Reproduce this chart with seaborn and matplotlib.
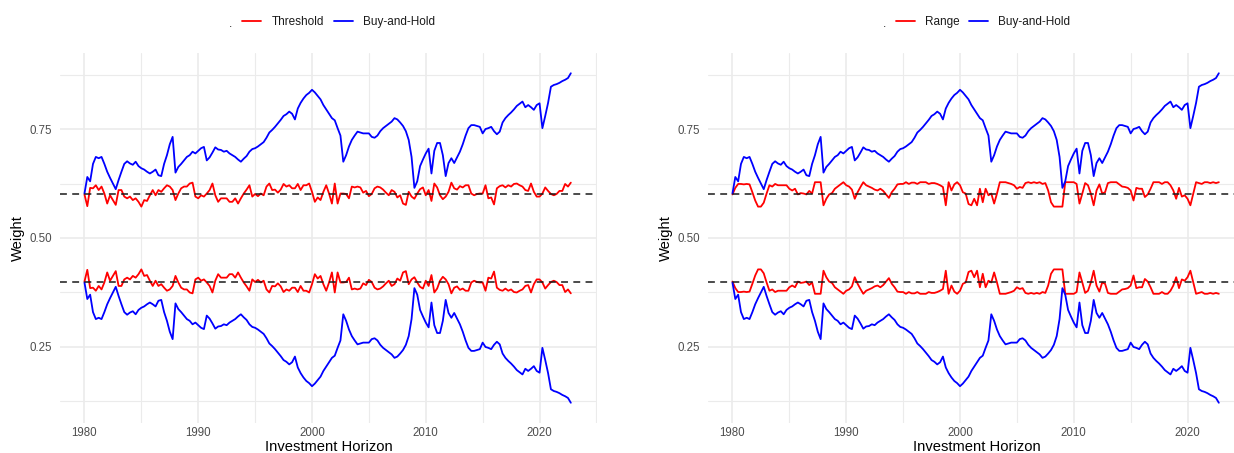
import numpy as np
import pandas as pd
import matplotlib
matplotlib.use("Agg")
import matplotlib.pyplot as plt
from matplotlib.lines import Line2D
import seaborn as sns

# ---------------- data (quarterly 1980.00 .. 2022.75) ----------------
years = 1980 + 0.25 * np.arange(172)

bh_stock = [
    0.602, 0.640, 0.630, 0.670,  0.686, 0.683, 0.686, 0.670,  0.652, 0.638, 0.625, 0.612,
    0.633, 0.652, 0.670, 0.676,  0.671, 0.668, 0.675, 0.665,  0.660, 0.657, 0.652, 0.648,
    0.652, 0.657, 0.644, 0.642,  0.670, 0.690, 0.715, 0.732,  0.650, 0.663, 0.670, 0.678,
    0.686, 0.690, 0.698, 0.694,  0.700, 0.706, 0.709, 0.678,  0.685, 0.696, 0.708, 0.703,
    0.702, 0.698, 0.700, 0.694,  0.690, 0.686, 0.680, 0.675,  0.682, 0.688, 0.698, 0.704,
    0.706, 0.710, 0.715, 0.720,  0.730, 0.742, 0.748, 0.755,  0.763, 0.771, 0.780, 0.784,
    0.790, 0.785, 0.772, 0.797,  0.810, 0.820, 0.828, 0.833,  0.840, 0.834, 0.826, 0.818,
    0.805, 0.795, 0.785, 0.775,  0.770, 0.752, 0.735, 0.675,  0.690, 0.710, 0.725, 0.735,
    0.744, 0.742, 0.740, 0.740,  0.740, 0.732, 0.730, 0.735,  0.745, 0.752, 0.757, 0.762,
    0.767, 0.775, 0.772, 0.765,  0.757, 0.745, 0.725, 0.686,  0.615, 0.630, 0.665, 0.680,
    0.694, 0.705, 0.648, 0.700,  0.718, 0.718, 0.690, 0.642,  0.672, 0.683, 0.672, 0.685,
    0.698, 0.715, 0.735, 0.752,  0.759, 0.759, 0.757, 0.755,  0.740, 0.750, 0.752, 0.755,
    0.745, 0.738, 0.744, 0.765,  0.775, 0.782, 0.788, 0.795,  0.803, 0.808, 0.813, 0.800,
    0.805, 0.800, 0.794, 0.805,  0.809, 0.752, 0.780, 0.810,  0.847, 0.851, 0.853, 0.856,
    0.860, 0.863, 0.867, 0.878,
]
bh_bond = [
    0.398, 0.360, 0.370, 0.330,  0.314, 0.317, 0.314, 0.330,  0.348, 0.362, 0.375, 0.388,
    0.367, 0.348, 0.330, 0.324,  0.329, 0.332, 0.325, 0.335,  0.340, 0.343, 0.348, 0.352,
    0.348, 0.343, 0.356, 0.358,  0.330, 0.310, 0.285, 0.268,  0.350, 0.337, 0.330, 0.322,
    0.314, 0.310, 0.302, 0.306,  0.300, 0.294, 0.291, 0.322,  0.315, 0.304, 0.292, 0.297,
    0.298, 0.302, 0.300, 0.306,  0.310, 0.314, 0.320, 0.325,  0.318, 0.312, 0.302, 0.296,
    0.294, 0.290, 0.285, 0.280,  0.270, 0.258, 0.252, 0.245,  0.237, 0.229, 0.220, 0.216,
    0.210, 0.215, 0.228, 0.203,  0.190, 0.180, 0.172, 0.167,  0.160, 0.166, 0.174, 0.182,
    0.195, 0.205, 0.215, 0.225,  0.230, 0.248, 0.265, 0.325,  0.310, 0.290, 0.275, 0.265,
    0.256, 0.258, 0.260, 0.260,  0.260, 0.268, 0.270, 0.265,  0.255, 0.248, 0.243, 0.238,
    0.233, 0.225, 0.228, 0.235,  0.243, 0.255, 0.275, 0.314,  0.385, 0.370, 0.335, 0.320,
    0.306, 0.295, 0.352, 0.300,  0.282, 0.282, 0.310, 0.358,  0.328, 0.317, 0.328, 0.315,
    0.302, 0.285, 0.265, 0.248,  0.241, 0.241, 0.243, 0.245,  0.260, 0.250, 0.248, 0.245,
    0.255, 0.262, 0.256, 0.235,  0.225, 0.218, 0.212, 0.205,  0.197, 0.192, 0.187, 0.200,
    0.195, 0.200, 0.206, 0.195,  0.191, 0.248, 0.220, 0.190,  0.153, 0.149, 0.147, 0.144,
    0.140, 0.137, 0.133, 0.122,
]

thr_stock = [
    0.600, 0.573, 0.615, 0.614,  0.621, 0.610, 0.618, 0.602,  0.579, 0.598, 0.587, 0.576,
    0.610, 0.610, 0.595, 0.591,  0.595, 0.587, 0.591, 0.583,  0.572, 0.587, 0.585, 0.598,
    0.610, 0.598, 0.610, 0.606,  0.614, 0.621, 0.618, 0.610,  0.587, 0.602, 0.614, 0.618,
    0.618, 0.625, 0.627, 0.595,  0.591, 0.598, 0.595, 0.602,  0.610, 0.625, 0.598, 0.583,
    0.591, 0.591, 0.591, 0.583,  0.583, 0.591, 0.579, 0.591,  0.602, 0.611, 0.621, 0.595,
    0.601, 0.596, 0.602, 0.598,  0.618, 0.625, 0.610, 0.611,  0.604, 0.611, 0.624, 0.618,
    0.621, 0.614, 0.614, 0.624,  0.610, 0.621, 0.621, 0.625,  0.606, 0.583, 0.593, 0.587,
    0.606, 0.621, 0.602, 0.579,  0.625, 0.579, 0.602, 0.602,  0.601, 0.591, 0.618, 0.616,
    0.618, 0.616, 0.604, 0.608,  0.596, 0.601, 0.614, 0.618,  0.616, 0.611, 0.604, 0.598,
    0.610, 0.606, 0.593, 0.598,  0.579, 0.576, 0.606, 0.595,  0.590, 0.602, 0.612, 0.616,
    0.598, 0.610, 0.585, 0.625,  0.616, 0.598, 0.589, 0.595,  0.606, 0.627, 0.614, 0.611,
    0.619, 0.616, 0.621, 0.621,  0.602, 0.598, 0.601, 0.602,  0.602, 0.621, 0.591, 0.593,
    0.577, 0.614, 0.619, 0.621,  0.616, 0.621, 0.618, 0.624,  0.625, 0.621, 0.618, 0.610,
    0.608, 0.625, 0.606, 0.595,  0.595, 0.602, 0.616, 0.608,  0.601, 0.598, 0.601, 0.608,
    0.608, 0.624, 0.618, 0.627,
]
thr_bond = [
    0.400, 0.427, 0.385, 0.386,  0.379, 0.390, 0.382, 0.398,  0.421, 0.402, 0.413, 0.424,
    0.390, 0.390, 0.405, 0.409,  0.405, 0.413, 0.409, 0.417,  0.428, 0.413, 0.415, 0.402,
    0.390, 0.402, 0.390, 0.394,  0.386, 0.379, 0.382, 0.390,  0.413, 0.398, 0.386, 0.382,
    0.382, 0.375, 0.373, 0.405,  0.409, 0.402, 0.405, 0.398,  0.390, 0.375, 0.402, 0.417,
    0.409, 0.409, 0.409, 0.417,  0.417, 0.409, 0.421, 0.409,  0.398, 0.389, 0.379, 0.405,
    0.399, 0.404, 0.398, 0.402,  0.382, 0.375, 0.390, 0.389,  0.396, 0.389, 0.376, 0.382,
    0.379, 0.386, 0.386, 0.376,  0.390, 0.379, 0.379, 0.375,  0.394, 0.417, 0.407, 0.413,
    0.394, 0.379, 0.398, 0.421,  0.375, 0.421, 0.398, 0.398,  0.399, 0.409, 0.382, 0.384,
    0.382, 0.384, 0.396, 0.392,  0.404, 0.399, 0.386, 0.382,  0.384, 0.389, 0.396, 0.402,
    0.390, 0.394, 0.407, 0.402,  0.421, 0.424, 0.394, 0.405,  0.410, 0.398, 0.388, 0.384,
    0.402, 0.390, 0.415, 0.375,  0.384, 0.402, 0.411, 0.405,  0.394, 0.373, 0.386, 0.389,
    0.381, 0.384, 0.379, 0.379,  0.398, 0.402, 0.399, 0.398,  0.398, 0.379, 0.409, 0.407,
    0.423, 0.386, 0.381, 0.379,  0.384, 0.379, 0.382, 0.376,  0.375, 0.379, 0.382, 0.390,
    0.392, 0.375, 0.394, 0.405,  0.405, 0.398, 0.384, 0.392,  0.399, 0.402, 0.399, 0.392,
    0.392, 0.376, 0.382, 0.373,
]

rng_stock = [
    0.600, 0.615, 0.624, 0.624,  0.623, 0.624, 0.623, 0.605,  0.586, 0.572, 0.572, 0.581,
    0.602, 0.621, 0.618, 0.624,  0.621, 0.621, 0.621, 0.621,  0.613, 0.609, 0.613, 0.600,
    0.603, 0.602, 0.600, 0.608,  0.602, 0.628, 0.628, 0.628,  0.575, 0.590, 0.600, 0.603,
    0.613, 0.618, 0.623, 0.628,  0.621, 0.618, 0.611, 0.590,  0.605, 0.617, 0.628, 0.621,
    0.618, 0.615, 0.611, 0.609,  0.613, 0.608, 0.600, 0.592,  0.605, 0.613, 0.623, 0.624,
    0.624, 0.628, 0.624, 0.627,  0.627, 0.624, 0.628, 0.628,  0.628, 0.624, 0.626, 0.626,
    0.624, 0.621, 0.617, 0.575,  0.628, 0.609, 0.623, 0.628,  0.621, 0.605, 0.602, 0.578,
    0.575, 0.590, 0.575, 0.613,  0.582, 0.613, 0.598, 0.602,  0.579, 0.602, 0.628, 0.628,
    0.628, 0.626, 0.624, 0.621,  0.613, 0.617, 0.615, 0.626,  0.628, 0.626, 0.628, 0.626,
    0.628, 0.624, 0.626, 0.609,  0.582, 0.572, 0.572, 0.572,  0.572, 0.628, 0.628, 0.628,
    0.628, 0.624, 0.579, 0.602,  0.626, 0.621, 0.602, 0.575,  0.609, 0.623, 0.602, 0.605,
    0.626, 0.628, 0.628, 0.628,  0.623, 0.618, 0.617, 0.615,  0.609, 0.586, 0.615, 0.613,
    0.613, 0.594, 0.600, 0.613,  0.628, 0.628, 0.628, 0.624,  0.628, 0.628, 0.621, 0.609,
    0.590, 0.615, 0.595, 0.598,  0.590, 0.575, 0.602, 0.628,  0.626, 0.624, 0.628, 0.628,
    0.626, 0.628, 0.626, 0.628,
]
rng_bond = [
    0.400, 0.385, 0.376, 0.376,  0.377, 0.376, 0.377, 0.395,  0.414, 0.428, 0.428, 0.419,
    0.398, 0.379, 0.382, 0.376,  0.379, 0.379, 0.379, 0.379,  0.387, 0.391, 0.387, 0.400,
    0.397, 0.398, 0.400, 0.392,  0.398, 0.372, 0.372, 0.372,  0.425, 0.410, 0.400, 0.397,
    0.387, 0.382, 0.377, 0.372,  0.379, 0.382, 0.389, 0.410,  0.395, 0.383, 0.372, 0.379,
    0.382, 0.385, 0.389, 0.391,  0.387, 0.392, 0.400, 0.408,  0.395, 0.387, 0.377, 0.376,
    0.376, 0.372, 0.376, 0.373,  0.373, 0.376, 0.372, 0.372,  0.372, 0.376, 0.374, 0.374,
    0.376, 0.379, 0.383, 0.425,  0.372, 0.391, 0.377, 0.372,  0.379, 0.395, 0.398, 0.422,
    0.425, 0.410, 0.425, 0.387,  0.418, 0.387, 0.402, 0.398,  0.421, 0.398, 0.372, 0.372,
    0.372, 0.374, 0.376, 0.379,  0.387, 0.383, 0.385, 0.374,  0.372, 0.374, 0.372, 0.374,
    0.372, 0.376, 0.374, 0.391,  0.418, 0.428, 0.428, 0.428,  0.428, 0.372, 0.372, 0.372,
    0.372, 0.376, 0.421, 0.398,  0.374, 0.379, 0.398, 0.425,  0.391, 0.377, 0.398, 0.395,
    0.374, 0.372, 0.372, 0.372,  0.377, 0.382, 0.383, 0.385,  0.391, 0.414, 0.385, 0.387,
    0.387, 0.406, 0.400, 0.387,  0.372, 0.372, 0.372, 0.376,  0.372, 0.372, 0.379, 0.391,
    0.410, 0.385, 0.405, 0.402,  0.410, 0.425, 0.398, 0.372,  0.374, 0.376, 0.372, 0.372,
    0.374, 0.372, 0.374, 0.372,
]

target_weights = [0.6, 0.4]
x_major = [1980, 1990, 2000, 2010, 2020]
x_minor = [1985, 1995, 2005, 2015, 2025]
y_major = [0.25, 0.50, 0.75]
y_minor = [0.125, 0.375, 0.625, 0.875]

for arr in (bh_stock, bh_bond, thr_stock, thr_bond, rng_stock, rng_bond):
    assert len(arr) == len(years), len(arr)

# ---------------- styling ----------------
sns.set_theme(style="white")
plt.rcParams["font.family"] = ["Liberation Sans", "DejaVu Sans"]

W, H = 1234, 453
fig = plt.figure(figsize=(W / 100, H / 100), dpi=100)
fig.patch.set_facecolor("white")

ax_l, ax_w = 60, 537          # axes left (px) and width (px)
ax_top, ax_bot = 53.4, 422.6
offset_r = 648
LW = 1.3

def make_df(stock, bond, name):
    return pd.concat([
        pd.DataFrame({"year": years, "weight": stock, "strategy": name, "asset": "stock"}),
        pd.DataFrame({"year": years, "weight": bond, "strategy": name, "asset": "bond"}),
    ], ignore_index=True)

panels = [
    ("Threshold", thr_stock, thr_bond, 0),
    ("Range", rng_stock, rng_bond, offset_r),
]

for name, s_stock, s_bond, off in panels:
    ax = fig.add_axes([(ax_l + off) / W, (H - ax_bot) / H, ax_w / W,
                       (ax_bot - ax_top) / H])
    ax.set_facecolor("white")
    for sp in ax.spines.values():
        sp.set_visible(False)

    df_s = make_df(s_stock, s_bond, name)
    df_b = make_df(bh_stock, bh_bond, "Buy-and-Hold")

    sns.lineplot(data=df_s, x="year", y="weight", units="asset", estimator=None,
                 color="#FF0000", linewidth=LW, legend=False, sort=True, ax=ax, zorder=3)
    sns.lineplot(data=df_b, x="year", y="weight", units="asset", estimator=None,
                 color="#0000FF", linewidth=LW, legend=False, sort=True, ax=ax, zorder=4)

    for tw in target_weights:
        ax.axhline(tw, color="#1a1a1a", linestyle=(0, (4.5, 3.5)), linewidth=1.1, zorder=5)

    ax.set_xlim(1977.85, 2025.05)
    ax.set_ylim(0.0765, 0.9235)
    ax.set_xticks(x_major)
    ax.set_xticks(x_minor, minor=True)
    ax.set_yticks(y_major)
    ax.set_yticks(y_minor, minor=True)
    ax.set_yticklabels([f"{v:.2f}" for v in y_major])
    ax.set_xticklabels([str(v) for v in x_major])
    ax.grid(which="major", color="#EBEBEB", linewidth=1.2, zorder=0)
    ax.grid(which="minor", color="#EBEBEB", linewidth=0.8, zorder=0)
    ax.set_axisbelow(True)
    ax.tick_params(which="both", length=0)
    ax.tick_params(axis="x", labelsize=8.3, labelcolor="#4D4D4D", pad=3.0)
    ax.tick_params(axis="y", labelsize=8.3, labelcolor="#4D4D4D", pad=5.8)

    ax.set_xlabel("Investment Horizon", fontsize=10.6, color="black")
    ax.set_ylabel("Weight", fontsize=10.6, color="black")
    ax.xaxis.set_label_coords(0.5, -(447 - ax_bot) / (ax_bot - ax_top))
    ax.xaxis.label.set_va("center")
    ax.yaxis.set_label_coords(-(ax_l - 18) / ax_w, 0.5)
    ax.yaxis.label.set_va("center")

    # legend on top, ggplot style with "." title at left
    handles = [Line2D([], [], color="#FF0000", linewidth=LW),
               Line2D([], [], color="#0000FF", linewidth=LW)]
    if name == "Threshold":
        cx, dot_x = 338.5, 230
    else:
        cx, dot_x = 983, 884
    fig.legend(handles, [name, "Buy-and-Hold"], loc="center",
               bbox_to_anchor=(cx / W, 1 - 22 / H), ncol=2, frameon=False,
               fontsize=8.5, handlelength=1.6, handletextpad=0.85,
               columnspacing=0.85, borderpad=0.0, labelcolor="#1a1a1a")
    fig.text(dot_x / W, 1 - 24 / H, ".", fontsize=8.5, color="#1a1a1a",
             ha="center", va="center")

fig.savefig("out.png", dpi=100, facecolor="white")
